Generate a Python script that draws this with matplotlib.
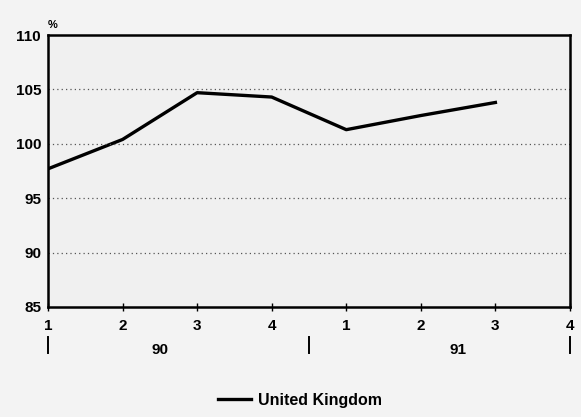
import matplotlib
matplotlib.use("Agg")
import matplotlib.pyplot as plt
import matplotlib.transforms as mtransforms

quarters = ["1", "2", "3", "4", "1", "2", "3", "4"]
years = ["90", "91"]
uk_values = [97.7, 100.4, 104.7, 104.3, 101.3, 102.6, 103.8]
series_name = "United Kingdom"
y_ticks = [85, 90, 95, 100, 105, 110]

plt.rcParams['font.family'] = ['Liberation Sans', 'DejaVu Sans']
plt.rcParams['font.weight'] = 'bold'

fig = plt.figure(figsize=(5.81, 4.17), dpi=100, facecolor='#f3f3f3')
ax = fig.add_axes([0.0826, 0.2638, 0.8984, 0.6522])
ax.set_facecolor('#f0f0f0')

x = list(range(len(uk_values)))
ax.plot(x, uk_values, color='black', lw=2.4, label=series_name, solid_joinstyle='round')

ax.set_xlim(0, len(quarters) - 1)
ax.set_ylim(85, 110)
ax.set_yticks(y_ticks)
ax.set_yticklabels([str(v) for v in y_ticks], fontsize=11, fontweight='bold')
ax.set_xticks(range(len(quarters)))
ax.set_xticklabels(quarters, fontsize=11, fontweight='bold')
ax.tick_params(axis='x', direction='inout', length=6, width=1, pad=6)
ax.tick_params(axis='y', length=0, pad=5)

for v in y_ticks[1:-1]:
    ax.axhline(v, color='#555555', lw=0.9, ls=(0, (1, 2.5)))

for s in ax.spines.values():
    s.set_linewidth(1.8)
    s.set_color('black')

ax.text(0.0, 1.02, "%", transform=ax.transAxes, fontsize=8, fontweight='bold', ha='left', va='bottom')

trans = mtransforms.blended_transform_factory(ax.transData, ax.transAxes)
for sx in [0, 3.5, 7]:
    ax.plot([sx, sx], [-0.11, -0.17], color='black', lw=1.4, transform=trans, clip_on=False)
ax.text(1.5, -0.158, years[0], transform=trans, ha='center', va='center', fontsize=11, fontweight='bold')
ax.text(5.5, -0.158, years[1], transform=trans, ha='center', va='center', fontsize=11, fontweight='bold')

leg = fig.legend(loc='center', bbox_to_anchor=(0.516, 0.04), frameon=False,
                 prop={'size': 11.5, 'weight': 'bold'}, handlelength=2.1, handletextpad=0.4)

fig.savefig("out.png", dpi=100, facecolor=fig.get_facecolor())
